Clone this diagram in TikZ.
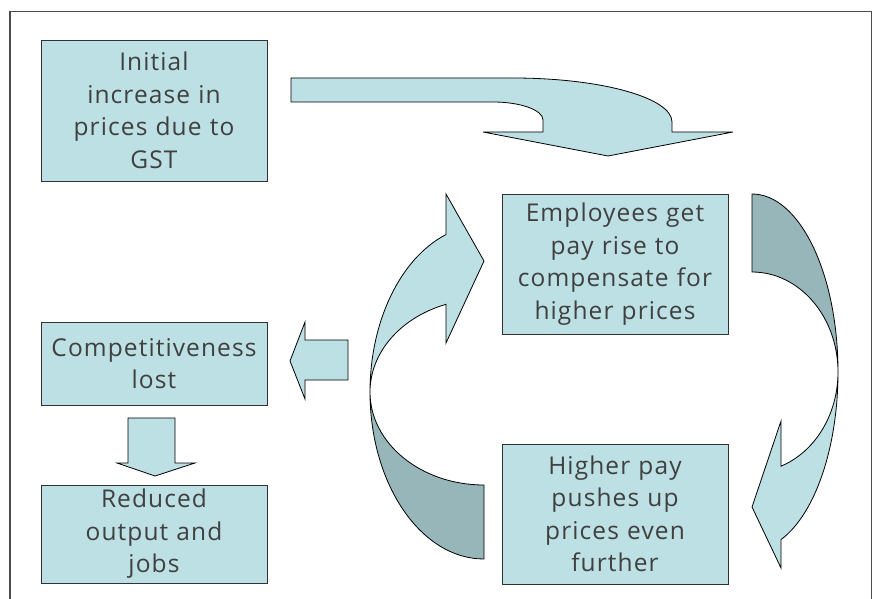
\documentclass[tikz,border=0pt]{standalone}
\usepackage{fontspec}
\setmainfont{Open Sans}[LetterSpace=4.5]
\usetikzlibrary{calc}
\definecolor{boxfill}{RGB}{189,224,228}
\definecolor{backfill}{RGB}{150,182,185}
\definecolor{txt}{RGB}{64,64,64}
\definecolor{edge}{RGB}{50,50,50}
\begin{document}
\begin{tikzpicture}[x=1pt,y=-1pt,
  infobox/.style={draw=edge, line width=0.9pt, fill=boxfill, text=txt,
    minimum width=226pt, text width=222pt, align=center, inner sep=0pt,
    font=\fontsize{24.5}{32.5}\selectfont},
  blockarrow/.style={draw=black, line width=0.8pt, fill=boxfill, line join=miter},
  backface/.style={draw=black, line width=0.8pt, fill=backfill}]
\useasboundingbox (0,0) rectangle (878,599);
% frame
\draw[line width=1.2pt, draw=black!70] (10,605) -- (10,11.5) -- (871.5,11.5) -- (871.5,605);

% boxes
\node[infobox, minimum height=141pt] (gst) at (154,110.5) {Initial\\increase in\\prices due to\\GST};
\node[infobox, minimum height=140pt] (emp) at (615,264) {Employees get\\pay rise to\\compensate for\\higher prices};
\node[infobox, minimum height=140pt] (pay) at (615,514) {Higher pay\\pushes up\\prices even\\further};
\node[infobox, minimum height=83pt] (comp) at (154,363.5) {Competitiveness\\lost};
\node[infobox, minimum height=98pt] (red) at (154,534) {Reduced\\output and\\jobs};

% top curved arrow
\draw[blockarrow] (291,78) -- (513,78)
  arc[start angle=-90, end angle=0, x radius=159, y radius=44]
  -- (672,132) -- (733,132) -- (608,156) -- (483,132) -- (543,132) -- (543,120)
  arc[start angle=0, end angle=-90, x radius=50, y radius=18]
  -- (291,102) -- cycle;

% left curved arrow (up into employees)
\draw[backface] (370,392)
  arc[start angle=180, end angle=90, x radius=114, y radius=167]
  -- (484,485)
  arc[start angle=90, end angle=180, x radius=114, y radius=93] -- cycle;
\draw[blockarrow] (370,392)
  arc[start angle=180, end angle=250.53, x radius=114, y radius=167]
  -- (446,194) -- (484,261) -- (446,343)
  -- ([shift={(484,392)}]250.53:114 and 93)
  arc[start angle=250.53, end angle=180, x radius=114, y radius=93] -- cycle;

% right curved arrow (down into higher pay)
\draw[backface] (838,372)
  arc[start angle=0, end angle=-90, x radius=86, y radius=178]
  -- (752,272)
  arc[start angle=-90, end angle=0, x radius=86, y radius=100] -- cycle;
\draw[blockarrow] (838,372)
  arc[start angle=0, end angle=70.3, x radius=86, y radius=178]
  -- (781,568) -- (752,507) -- (781,421)
  -- ([shift={(752,372)}]70.3:86 and 100)
  arc[start angle=70.3, end angle=0, x radius=86, y radius=100] -- cycle;

% left block arrow
\draw[blockarrow] (290,361) -- (305,322) -- (305,340) -- (348,340) -- (348,380)
  -- (305,380) -- (305,399) -- cycle;

% down block arrow
\draw[blockarrow] (128,418) -- (175,418) -- (175,463) -- (195,463) -- (155,476)
  -- (117,463) -- (128,463) -- cycle;
\end{tikzpicture}
\end{document}
